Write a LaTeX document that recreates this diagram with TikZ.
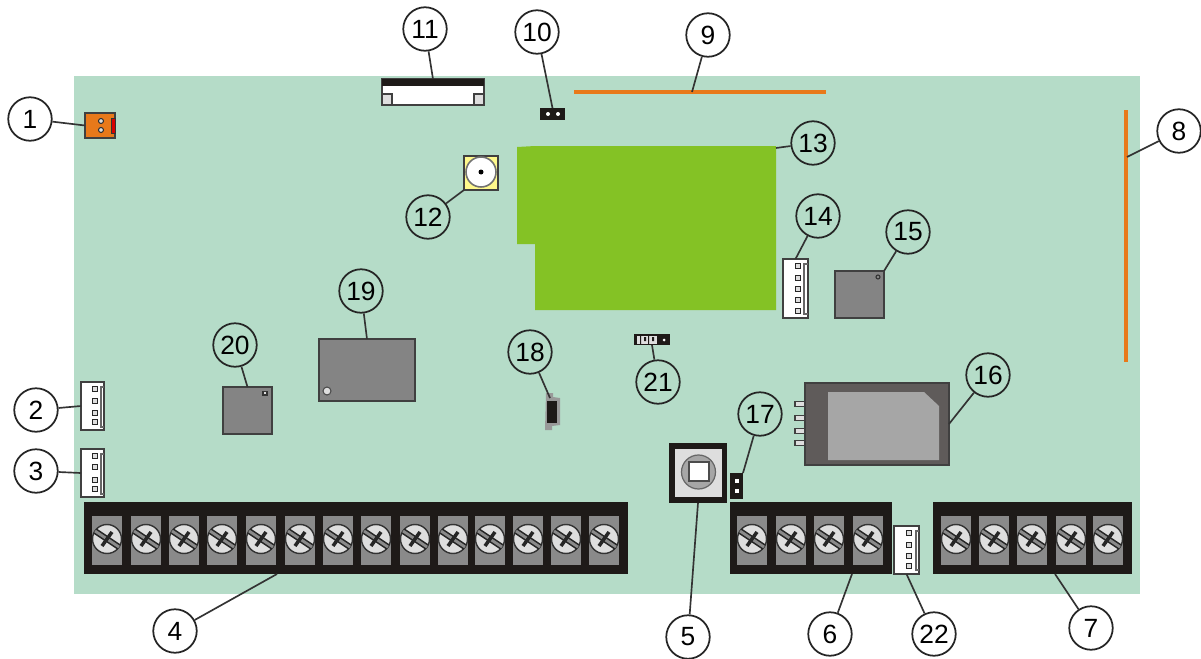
\documentclass[tikz,border=0pt]{standalone}
\usepackage{fontspec}
\setmainfont{Liberation Sans}
\definecolor{boardgreen}{HTML}{B5DCC8}
\definecolor{modulegreen}{HTML}{84C225}
\definecolor{stripblack}{HTML}{1E1A18}
\definecolor{partgray}{HTML}{848484}
\definecolor{slotgray}{HTML}{8A8A8A}
\definecolor{relaygray}{HTML}{5F5B5A}
\definecolor{lightgray}{HTML}{DEDEDE}
\definecolor{wireorange}{HTML}{E8791A}
\tikzset{
  callout/.style={draw=black!85,circle,line width=1pt,minimum size=0.87cm,inner sep=0pt,font=\fontsize{15}{15}\selectfont},
  leader/.style={draw=black!80,line width=0.95pt},
  part/.style={draw=black!75,line width=0.7pt,inner sep=0pt,outer sep=0pt},
  strip/.style={fill=stripblack,inner sep=0pt,outer sep=0pt,minimum height=1.44cm},
  holder/.style={part,fill=white}
}
% one screw terminal of a strip
\newcommand{\screwslot}[1]{
  \fill[slotgray] (#1-15,516) rectangle (#1+15,565);
  \draw[fill=lightgray,draw=black!80,line width=0.8pt] (#1,539) circle (14.5);
  \draw[black!85,line width=3.4pt] (#1-12,531) -- (#1+12,547);
  \draw[slotgray,line width=1.6pt] (#1-12,531) -- (#1+12,547);
  \draw[black!85,line width=2pt] (#1-5,546) -- (#1+5,532);
}
\newcommand{\pinhole}[2]{
  \draw[fill=lightgray,draw=black!85,line width=0.7pt] (#1-2.5,#2-2.5) rectangle (#1+2.5,#2+2.5);
}
\begin{document}
\begin{tikzpicture}[x=0.02cm,y=-0.02cm]
    \useasboundingbox (0,0) rectangle (1201,659);

    % Board
    \node[fill=boardgreen,inner sep=0pt,minimum width=21.32cm,minimum height=10.36cm] (board) at (607,335) {};

    % Green module
    \fill[modulegreen] (517,147) -- (535,146) -- (776,146) -- (776,310) -- (535,310) -- (535,244) -- (517,244) -- cycle;
    \coordinate (moduleedge) at (776,148);

    % Orange strips
    \draw[wireorange,line width=2.2pt] (574,92) -- (826,92);
    \draw[wireorange,line width=2.2pt] (1126,110) -- (1126,362);
    \coordinate (topstrip) at (692,92);
    \coordinate (sidestrip) at (1127,157);

    % Power plug
    \node[part,fill=wireorange,minimum width=0.6cm,minimum height=0.5cm] (plug) at (100,125.5) {};
    \fill[red!85!black] (111,118) rectangle (115,133);
    \draw[black!80,line width=0.5pt] (111,118) rectangle (115,133);
    \draw[fill=lightgray,draw=black!80,line width=0.6pt] (101,121) circle (2.5);
    \draw[fill=lightgray,draw=black!80,line width=0.6pt] (101,130) circle (2.5);

    % White headers
    \node[holder,minimum width=0.46cm,minimum height=0.96cm] (headerA) at (92.5,406) {};
    \draw[black!60,line width=0.7pt] (104,387) -- (101,387) -- (101,427) -- (104,427);
    \pinhole{95}{389} \pinhole{95}{401} \pinhole{95}{413} \pinhole{95}{422}

    \node[holder,minimum width=0.46cm,minimum height=0.96cm] (headerB) at (92.5,473) {};
    \draw[black!60,line width=0.7pt] (104,454) -- (101,454) -- (101,494) -- (104,494);
    \pinhole{95}{456} \pinhole{95}{467} \pinhole{95}{480} \pinhole{95}{489}

    \node[holder,minimum width=0.5cm,minimum height=1.18cm] (headerC) at (795.5,288.5) {};
    \draw[black!60,line width=0.7pt] (808,264) -- (804,264) -- (804,314) -- (808,314);
    \pinhole{798}{266} \pinhole{798}{278} \pinhole{798}{289} \pinhole{798}{300} \pinhole{798}{311}

    \node[holder,minimum width=0.5cm,minimum height=0.96cm] (headerD) at (906.5,550) {};
    \draw[black!60,line width=0.7pt] (919,531) -- (916,531) -- (916,570) -- (919,570);
    \pinhole{909}{533} \pinhole{909}{545} \pinhole{909}{556} \pinhole{909}{566}

    % Terminal strips
    \node[strip,minimum width=10.88cm] (stripA) at (356,538) {};
    \foreach \x in {107,146,184,222,261,300,338,376,415,453,490,528,566,604} {\screwslot{\x}}
    \coordinate (stripAend) at (277,574);

    \node[strip,minimum width=3.24cm] (stripB) at (811,538) {};
    \foreach \x in {752,791,829,868} {\screwslot{\x}}
    \coordinate (stripBend) at (852,574);

    \node[strip,minimum width=3.98cm] (stripC) at (1032.5,538) {};
    \foreach \x in {956,994,1032,1071,1108} {\screwslot{\x}}
    \coordinate (stripCend) at (1055,574);

    % Push button
    \node[fill=stripblack,inner sep=0pt,outer sep=0pt,minimum width=1.16cm,minimum height=1.2cm] (button) at (698,473) {};
    \fill[lightgray] (675,449) rectangle (722,497);
    \draw[fill=black!35,draw=black!60,line width=0.7pt] (698.5,472) circle (17);
    \draw[fill=white,draw=black!70,line width=0.7pt] (689,462) rectangle (709,481);

    % Flat connector
    \node[holder,minimum width=2.04cm,minimum height=0.52cm] (flatcon) at (433,92) {};
    \fill[stripblack] (382,79) rectangle (484,86);
    \draw[part,fill=lightgray] (382,94) rectangle (392,105);
    \draw[part,fill=lightgray] (474,94) rectangle (484,105);

    % Jumpers
    \node[fill=stripblack,inner sep=0pt,outer sep=0pt,minimum width=0.5cm,minimum height=0.24cm] (jumperA) at (552.5,114) {};
    \fill[white] (548,114) circle (2) (558,114) circle (2);

    \node[fill=stripblack,inner sep=0pt,outer sep=0pt,minimum width=0.26cm,minimum height=0.52cm] (jumperB) at (736.5,486) {};
    \fill[white] (734.5,479) rectangle (738.5,483);
    \fill[white] (734.5,489) rectangle (738.5,493);

    \node[fill=stripblack,inner sep=0pt,outer sep=0pt,minimum width=0.72cm,minimum height=0.22cm] (jumperC) at (652,339.5) {};
    \fill[lightgray] (637,336) rectangle (657,344);
    \fill[stripblack] (640,336) rectangle (641,344) (644,337) rectangle (646,341) (648,336) rectangle (649,344) (652,337) rectangle (654,341);
    \fill[white] (664,340) circle (1.5);

    % Coax socket
    \node[part,fill=yellow!45,minimum width=0.68cm,minimum height=0.68cm] (coax) at (481,173) {};
    \draw[fill=white,draw=black!55,line width=0.9pt] (481,172) circle (15);
    \fill[black] (481,172) circle (2.5);

    % Gray chips
    \node[part,fill=partgray,minimum width=0.98cm,minimum height=0.94cm] (chipA) at (859.5,294.5) {};
    \draw[black!80,line width=0.6pt] (878,277) circle (2);

    \node[part,fill=partgray,minimum width=0.98cm,minimum height=0.94cm] (chipB) at (247.5,410.5) {};
    \draw[black!80,fill=lightgray,line width=0.6pt] (263,391.5) rectangle (267,395);

    \node[part,fill=partgray,minimum width=1.92cm,minimum height=1.24cm] (chipC) at (367,370) {};
    \draw[fill=lightgray,draw=black!70,line width=0.6pt] (327,391) circle (4);

    % Relay
    \foreach \y in {404,418,431,443} {
      \draw[fill=lightgray,draw=black!75,line width=0.7pt] (795,\y-2.5) rectangle (805,\y+2.5);
    }
    \node[part,fill=relaygray,minimum width=2.88cm,minimum height=1.64cm] (relay) at (877,424) {};
    \fill[black!35] (828,392) -- (924,392) -- (939,406) -- (939,460) -- (828,460) -- cycle;

    % Small socket
    \fill[black!40] (546,393) -- (553,393) -- (553,397) -- (560,398) -- (560,425) -- (552,426) -- (552,430) -- (545,430) -- cycle;
    \node[fill=stripblack,inner sep=0pt,outer sep=0pt,minimum width=0.2cm,minimum height=0.44cm] (socket) at (552,412) {};
    \coordinate (socketend) at (550,398);

    % Callouts
    \node[callout] (c1) at (30,119) {1};
    \node[callout] (c2) at (36,410) {2};
    \node[callout] (c3) at (36,471) {3};
    \node[callout] (c4) at (175,631) {4};
    \node[callout] (c5) at (688,637) {5};
    \node[callout] (c6) at (830,634) {6};
    \node[callout] (c7) at (1091,628) {7};
    \node[callout] (c8) at (1179,131) {8};
    \node[callout] (c9) at (708,35) {9};
    \node[callout] (c10) at (537,32) {10};
    \node[callout] (c11) at (425,29) {11};
    \node[callout] (c12) at (428,217) {12};
    \node[callout] (c13) at (813,143) {13};
    \node[callout] (c14) at (818,216) {14};
    \node[callout] (c15) at (908,232) {15};
    \node[callout] (c16) at (988,375) {16};
    \node[callout] (c17) at (760,414) {17};
    \node[callout] (c18) at (530,352) {18};
    \node[callout] (c19) at (361,291) {19};
    \node[callout] (c20) at (235,345) {20};
    \node[callout] (c21) at (658,382) {21};
    \node[callout] (c22) at (934,634) {22};

    % Leader lines
    \draw[leader] (c1) -- (plug.west);
    \draw[leader] (c2) -- (headerA.west);
    \draw[leader] (c3) -- (headerB.west);
    \draw[leader] (c4) -- (stripAend);
    \draw[leader] (c5) -- (button.south);
    \draw[leader] (c6) -- (stripBend);
    \draw[leader] (c7) -- (stripCend);
    \draw[leader] (c8) -- (sidestrip);
    \draw[leader] (c9) -- (topstrip);
    \draw[leader] (c10) -- (jumperA.north);
    \draw[leader] (c11) -- (flatcon.north);
    \draw[leader] (c12) -- (coax.south west);
    \draw[leader] (c13) -- (moduleedge);
    \draw[leader] (c14) -- (headerC.north);
    \draw[leader] (c15) -- (chipA.north east);
    \draw[leader] (c16) -- (relay.east);
    \draw[leader] (c17) -- (jumperB.north east);
    \draw[leader] (c18) -- (socketend);
    \draw[leader] (c19) -- (chipC.north);
    \draw[leader] (c20) -- (chipB.north);
    \draw[leader] (c21) -- (jumperC.south);
    \draw[leader] (c22) -- (headerD.south);
\end{tikzpicture}
\end{document}
